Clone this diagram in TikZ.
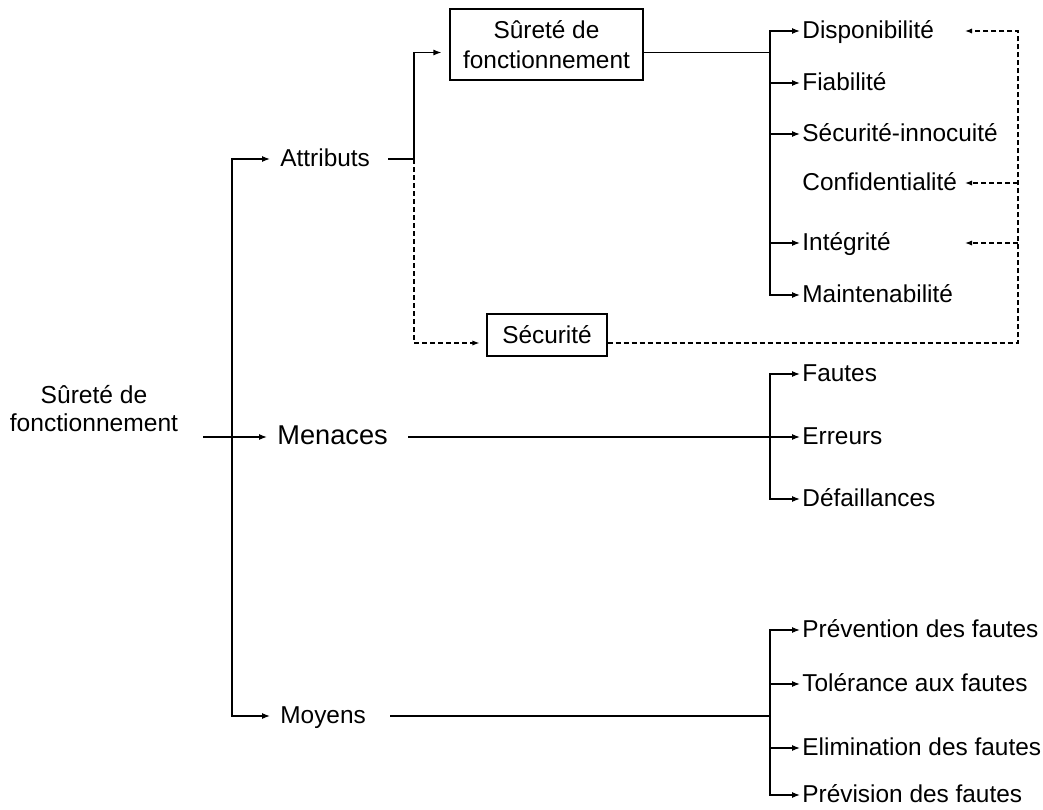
\documentclass[tikz,border=0pt]{standalone}
\usepackage{fontspec}
\setmainfont{Liberation Sans}
\usetikzlibrary{arrows.meta}

\begin{document}
\begin{tikzpicture}[x=0.5pt, y=-0.5pt,
      lbl/.style={anchor=west, inner ysep=0pt, inner xsep=1pt, text height=8.4pt, text depth=1pt, font=\fontsize{12.2}{14}\selectfont},
      lvl/.style={lbl, inner xsep=5pt},
      box/.style={draw, line width=0.6pt, align=center, inner sep=0pt, font=\fontsize{12.2}{15}\selectfont},
      link/.style={line width=0.6pt},
      arr/.style={line width=0.6pt, -{Latex[length=4pt,width=3pt]}},
      darr/.style={line width=0.6pt, dash pattern=on 2.5pt off 1.5pt, -{Latex[length=3.5pt,width=2.6pt]}}]
      \def\bx{770}
      \def\lx{800}

      \useasboundingbox (0,0) rectangle (1043,809);

      \node[align=center, font=\fontsize{12.3}{14}\selectfont] (root) at (94,409) {Sûreté de\\fonctionnement};
      \node[lvl] (attr) at (270,159) {Attributs};
      \node[lvl, font=\fontsize{13.6}{15}\selectfont] (menaces) at (267,437) {Menaces};
      \node[lvl] (moyens) at (270,716) {Moyens};

      \node[box, minimum width=96.5pt, minimum height=35.5pt] (sdf) at (546.5,44.5) {Sûreté de\\fonctionnement};
      \node[box, minimum width=60pt, minimum height=21pt] (sec) at (547,335) {Sécurité};

      \foreach \nm/\y/\txt in {dispo/31/Disponibilité, fiab/83/Fiabilité, secinn/134/Sécurité-innocuité,
          conf/183/Confidentialité, integ/243/Intégrité, maint/295/Maintenabilité}{
        \node[lbl] (\nm) at (\lx,\y) {\txt};
      }
      \foreach \nm/\y/\txt in {fautes/374/Fautes, erreurs/437/Erreurs, defail/499/Défaillances}{
        \node[lbl] (\nm) at (\lx,\y) {\txt};
      }
      \foreach \nm/\y/\txt in {prev/630/Prévention des fautes, tol/684/Tolérance aux fautes,
          elim/748/Elimination des fautes, previs/795/Prévision des fautes}{
        \node[lbl] (\nm) at (\lx,\y) {\txt};
      }

      \coordinate (rootout) at (203,437);
      \coordinate (trunk) at (232,437);
      \coordinate (asplit) at (414,159);
      \coordinate (dsplit) at (\bx,52.5);
      \coordinate (msplit) at (\bx,437);
      \coordinate (vsplit) at (\bx,716);
      \coordinate (rcol) at (1018,342);
      \coordinate (tipx) at (965,0);

      \draw[arr] (rootout) -- (menaces.west);
      \draw[arr] (trunk) |- (attr.west);
      \draw[arr] (trunk) |- (moyens.west);

      \draw[link, shorten <=4pt] (attr.east) -- (asplit);
      \draw[arr, shorten >=4pt] (asplit) |- ([yshift=-4pt]sdf.west);
      \draw[darr, shorten >=3.5pt] (asplit) |- ([yshift=-4pt]sec.west);

      \draw[link] ([yshift=-4pt]sdf.east) -- (dsplit);
      \foreach \nm in {dispo,fiab,secinn,integ,maint}{
        \draw[arr] (dsplit) |- (\nm.west);
      }

      \draw[darr] ([yshift=-4pt]sec.east) -| (rcol |- dispo.west) -- (tipx |- dispo.west);
      \foreach \nm in {conf,integ}{
        \draw[darr] (rcol |- \nm.west) -- (tipx |- \nm.west);
      }

      \draw[arr, shorten <=5pt] (menaces.east) -- (erreurs.west);
      \draw[arr] (msplit) |- (fautes.west);
      \draw[arr] (msplit) |- (defail.west);

      \draw[link, shorten <=7pt] (moyens.east) -- (vsplit);
      \foreach \nm in {prev,tol,elim,previs}{
        \draw[arr] (vsplit) |- (\nm.west);
      }

    \end{tikzpicture}
\end{document}
